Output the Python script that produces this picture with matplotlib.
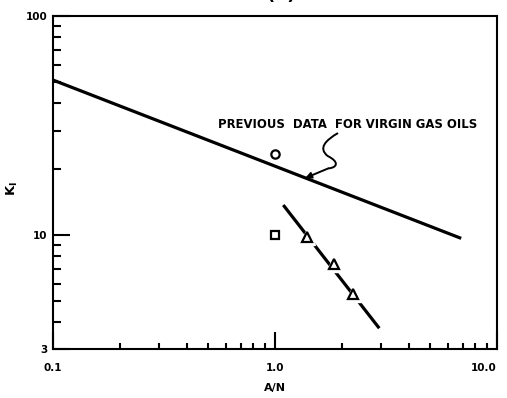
import numpy as np
import matplotlib.pyplot as plt
from matplotlib.path import Path
from matplotlib.patches import PathPatch
from matplotlib.ticker import FixedLocator, NullFormatter, FixedFormatter

plt.rcParams["font.family"] = ["DejaVu Sans"]
plt.rcParams["font.weight"] = "bold"
plt.rcParams["mathtext.default"] = "bf"

# correlation line from previous work (virgin gas oils)
prev_an = [0.1, 6.9]
prev_k1 = [51.0, 9.65]

# fitted line through the new data
fit_an = [1.09, 2.95]
fit_k1 = [13.7, 3.75]

# measured points
tri_an = [1.4, 1.85, 2.25]
tri_k1 = [9.8, 7.35, 5.4]
circ_an = [1.0]
circ_k1 = [23.5]
sq_an = [1.0]
sq_k1 = [10.0]

x_ticks = [0.1, 1.0, 10.0]
x_ticklabels = ["0.1", "1.0", "10.0"]
y_ticks = [3, 10, 100]
y_ticklabels = ["3", "10", "100"]

fig = plt.figure(figsize=(5.07, 3.98), dpi=100)
ax = fig.add_axes([0.1045, 0.1219, 0.8757, 0.8379])
ax.set_xscale("log")
ax.set_yscale("log")
ax.set_xlim(0.1, 10)
ax.set_ylim(3, 100)

ax.plot(prev_an, prev_k1, color="black", lw=2.3, solid_capstyle="butt", zorder=2)
ax.plot(fit_an, fit_k1, color="black", lw=2.3, solid_capstyle="butt", zorder=2)

# white halos break the fitted line around the triangles
ax.plot(tri_an, tri_k1, ls="none", marker="^", ms=12, mfc="white", mec="white", zorder=3)
ax.plot(tri_an, tri_k1, ls="none", marker="^", ms=6.5, mfc="white", mec="black", mew=1.6, zorder=4)
ax.plot(circ_an, circ_k1, ls="none", marker="o", ms=6, mfc="white", mec="black", mew=1.6, zorder=4)
ax.plot(sq_an, sq_k1, ls="none", marker="s", ms=5.5, mfc="white", mec="black", mew=1.6, zorder=4)

ax.text(0.372, 0.676, "PREVIOUS  DATA  FOR VIRGIN GAS OILS", transform=ax.transAxes,
        fontsize=8.4, fontweight="bold", va="center", ha="left")

# squiggly leader pointing to the old correlation
verts = [(0.642, 0.649), (0.615, 0.628), (0.596, 0.604), (0.619, 0.580),
         (0.646, 0.562), (0.640, 0.545), (0.620, 0.543)]
codes = [Path.MOVETO, Path.CURVE4, Path.CURVE4, Path.CURVE4,
         Path.CURVE4, Path.CURVE4, Path.CURVE4]
ax.add_patch(PathPatch(Path(verts, codes), transform=ax.transAxes,
                       fill=False, lw=1.4, color="black"))
ax.annotate("", xy=(0.568, 0.514), xytext=(0.620, 0.543),
            xycoords="axes fraction", textcoords="axes fraction",
            arrowprops=dict(arrowstyle="-|>", color="black", lw=1.4,
                            mutation_scale=9, shrinkA=0, shrinkB=0))

for side in ["left", "bottom", "top", "right"]:
    ax.spines[side].set_linewidth(1.5)

ax.xaxis.set_major_locator(FixedLocator(x_ticks))
ax.xaxis.set_major_formatter(FixedFormatter(x_ticklabels))
ax.yaxis.set_major_locator(FixedLocator(y_ticks))
ax.yaxis.set_major_formatter(FixedFormatter(y_ticklabels))
minor_x = [m * d for d in [0.1, 1.0] for m in range(2, 10)]
minor_y = [4, 5, 6, 7, 8, 9, 20, 30, 40, 50, 60, 70, 80, 90]
ax.xaxis.set_minor_locator(FixedLocator(minor_x))
ax.yaxis.set_minor_locator(FixedLocator(minor_y))
ax.xaxis.set_minor_formatter(NullFormatter())
ax.yaxis.set_minor_formatter(NullFormatter())

ax.tick_params(which="both", direction="in", top=False, right=False, width=1.5)
ax.tick_params(axis="x", which="major", length=12, pad=10, labelsize=7.5)
ax.tick_params(axis="x", which="minor", length=4)
ax.tick_params(axis="y", which="major", length=12, pad=4, labelsize=7.5)
ax.tick_params(axis="y", which="minor", length=6)

# keep the last x label inside the figure
ax.get_xticklabels()[-1].set_horizontalalignment("right")

ax.set_xlabel("A/N", fontsize=8, fontweight="bold", labelpad=7)
ax.set_ylabel("K$_{I}$", fontsize=9.5, fontweight="bold")
ax.yaxis.set_label_coords(-0.074, 0.484)

fig.text(281 / 507, 0.999, "(b)", ha="center", va="baseline", fontsize=13, fontweight="bold")

fig.savefig("out.png", dpi=100)
